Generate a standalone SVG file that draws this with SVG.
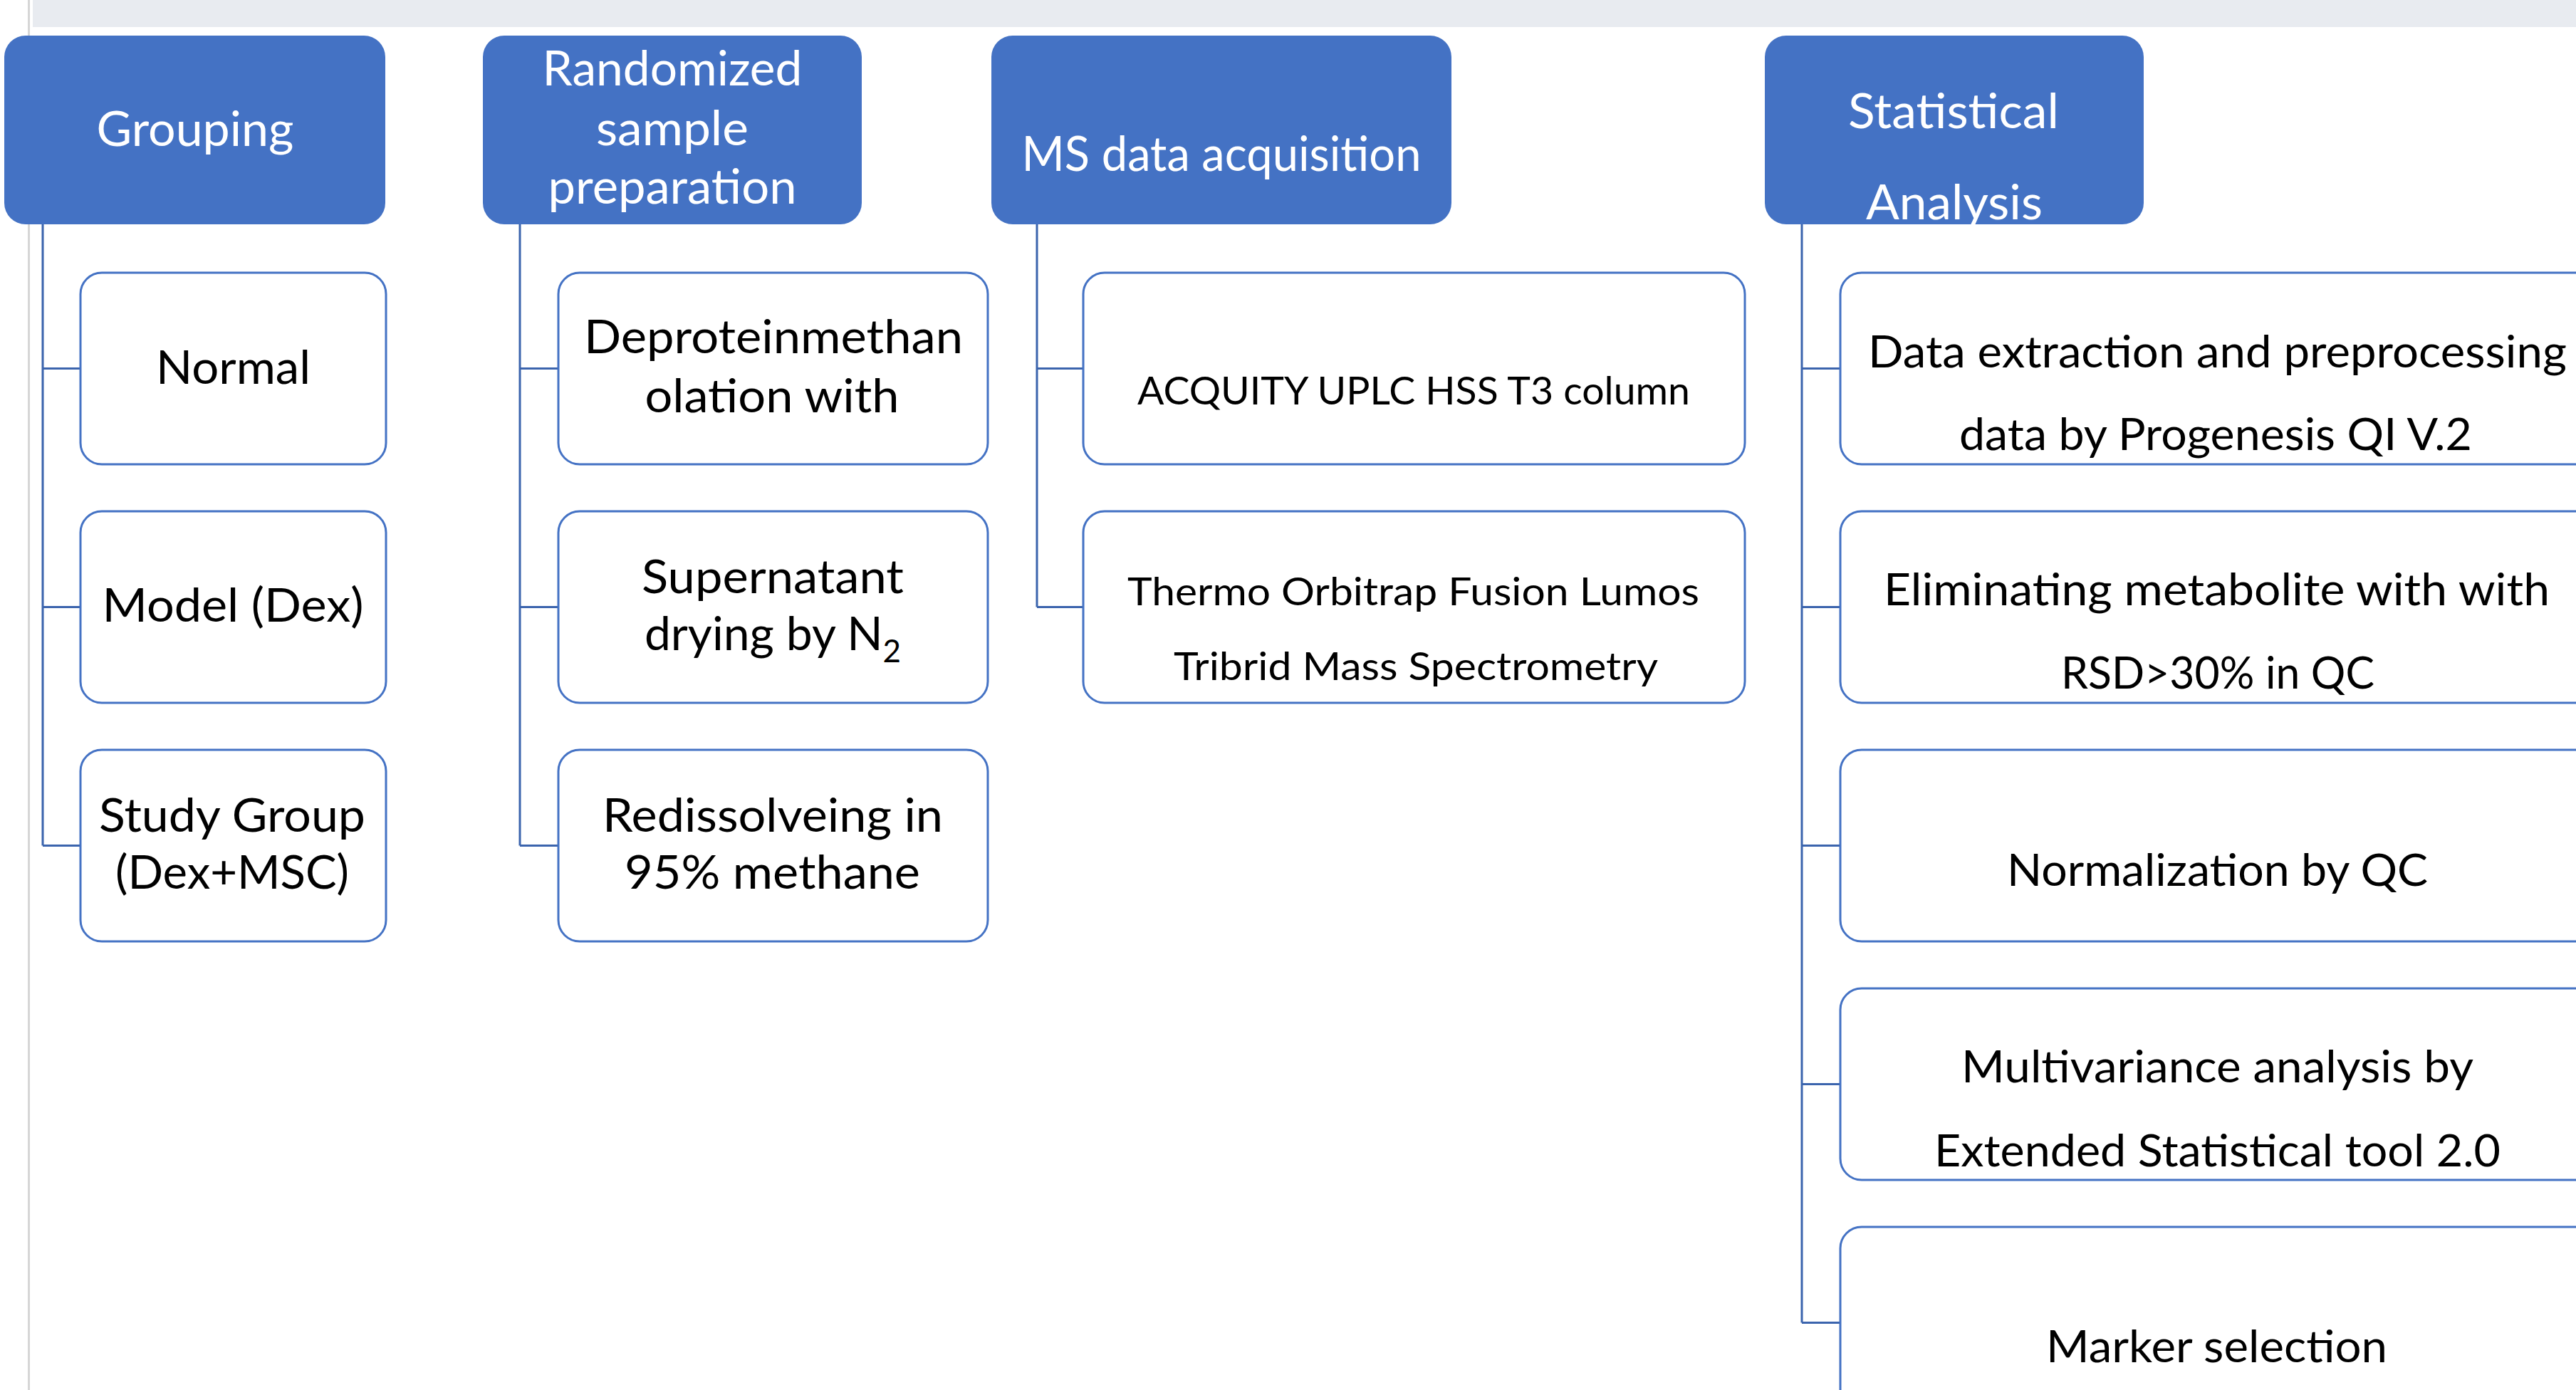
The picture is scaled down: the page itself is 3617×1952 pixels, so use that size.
<svg xmlns="http://www.w3.org/2000/svg" width="3617" height="1952" viewBox="0 0 3617 1952">
<style>
.hdr{fill:#4472C4}
.box{fill:#FFFFFF;stroke:#4472C4;stroke-width:3}
.con{fill:none;stroke:#3B64AD;stroke-width:3}
.ht{font-family:Lato,"Open Sans",sans-serif;fill:#FFFFFF;text-anchor:middle;font-size:67px}
.ct{font-family:Lato,"Open Sans",sans-serif;fill:#000000;text-anchor:middle;font-size:66px}
.ms{font-size:54px}
.st{font-size:62px}
</style>
<rect x="0" y="0" width="3617" height="1952" fill="#FFFFFF"/>
<rect x="46" y="0" width="3571" height="38" fill="#E8EBF0"/>
<rect x="39" y="0" width="3" height="1952" fill="#D6D6D6"/>

<g id="connectors">
<path class="con" d="M60 315V1187.5M60 517.5H113M60 852.5H113M60 1187.5H113"/>
<path class="con" d="M730 315V1187.5M730 517.5H784M730 852.5H784M730 1187.5H784"/>
<path class="con" d="M1456 315V852.5M1456 517.5H1521M1456 852.5H1521"/>
<path class="con" d="M2530 315V1857.5M2530 517.5H2584M2530 852.5H2584M2530 1187.5H2584M2530 1522.5H2584M2530 1857.5H2584"/>
</g>

<g id="grouping">
<rect class="hdr" x="6" y="50" width="535" height="265" rx="30"/>
<text class="ht" x="274" y="205" textLength="277" lengthAdjust="spacingAndGlyphs">Grouping</text>
</g>
<g id="randomized">
<rect class="hdr" x="678" y="50" width="532" height="265" rx="30"/>
<text class="ht" x="944" y="120" textLength="365" lengthAdjust="spacingAndGlyphs">Randomized</text>
<text class="ht" x="944" y="204" textLength="214" lengthAdjust="spacingAndGlyphs">sample</text>
<text class="ht" x="944" y="286" textLength="349" lengthAdjust="spacingAndGlyphs">preparation</text>
</g>
<g id="ms-data">
<rect class="hdr" x="1392" y="50" width="646" height="265" rx="30"/>
<text class="ht" x="1715" y="240" textLength="561" lengthAdjust="spacingAndGlyphs">MS data acquisition</text>
</g>
<g id="statistical">
<rect class="hdr" x="2478" y="50" width="532" height="265" rx="30"/>
<text class="ht" x="2743" y="180" textLength="296" lengthAdjust="spacingAndGlyphs">Statistical</text>
<text class="ht" x="2744" y="308" textLength="248" lengthAdjust="spacingAndGlyphs">Analysis</text>
</g>

<g id="normal">
<rect class="box" x="113" y="383" width="429" height="269" rx="30"/>
<text class="ct" x="327.5" y="539" textLength="217" lengthAdjust="spacingAndGlyphs">Normal</text>
</g>
<g id="model">
<rect class="box" x="113" y="718" width="429" height="269" rx="30"/>
<text class="ct" x="327" y="873" textLength="367" lengthAdjust="spacingAndGlyphs">Model (Dex)</text>
</g>
<g id="study">
<rect class="box" x="113" y="1053" width="429" height="269" rx="30"/>
<text class="ct" x="326" y="1168" textLength="374" lengthAdjust="spacingAndGlyphs">Study Group</text>
<text class="ct" x="326" y="1248" textLength="328" lengthAdjust="spacingAndGlyphs">(Dex+MSC)</text>
</g>

<g id="deprotein">
<rect class="box" x="784" y="383" width="603" height="269" rx="30"/>
<text class="ct" x="1086" y="496" textLength="532" lengthAdjust="spacingAndGlyphs">Deproteinmethan</text>
<text class="ct" x="1084" y="579" textLength="357" lengthAdjust="spacingAndGlyphs">olation with</text>
</g>
<g id="supernatant">
<rect class="box" x="784" y="718" width="603" height="269" rx="30"/>
<text class="ct" x="1085" y="833" textLength="368" lengthAdjust="spacingAndGlyphs">Supernatant</text>
<text class="ct" x="1085" y="913">drying by N<tspan font-size="44" dy="17">2</tspan></text>
</g>
<g id="redissolve">
<rect class="box" x="784" y="1053" width="603" height="269" rx="30"/>
<text class="ct" x="1085" y="1168" textLength="478" lengthAdjust="spacingAndGlyphs">Redissolveing in</text>
<text class="ct" x="1084.5" y="1248" textLength="415" lengthAdjust="spacingAndGlyphs">95% methane</text>
</g>

<g id="acquity">
<rect class="box" x="1521" y="383" width="929" height="269" rx="30"/>
<text class="ct ms" x="1985" y="568" textLength="776" lengthAdjust="spacingAndGlyphs">ACQUITY UPLC HSS T3 column</text>
</g>
<g id="thermo">
<rect class="box" x="1521" y="718" width="929" height="269" rx="30"/>
<text class="ct ms" x="1984.5" y="850" textLength="803" lengthAdjust="spacingAndGlyphs">Thermo Orbitrap Fusion Lumos</text>
<text class="ct ms" x="1988" y="955" textLength="680" lengthAdjust="spacingAndGlyphs">Tribrid Mass Spectrometry</text>
</g>

<g id="data-extraction">
<rect class="box" x="2584" y="383" width="1100" height="269" rx="30"/>
<text class="ct st" x="3113.5" y="516" textLength="981" lengthAdjust="spacingAndGlyphs">Data extraction and preprocessing</text>
<text class="ct st" x="3111" y="632" textLength="720" lengthAdjust="spacingAndGlyphs">data by Progenesis QI V.2</text>
</g>
<g id="eliminating">
<rect class="box" x="2584" y="718" width="1100" height="269" rx="30"/>
<text class="ct st" x="3112.5" y="850" textLength="935" lengthAdjust="spacingAndGlyphs">Eliminating metabolite with with</text>
<text class="ct st" x="3114" y="967" textLength="440" lengthAdjust="spacingAndGlyphs">RSD&gt;30% in QC</text>
</g>
<g id="normalization">
<rect class="box" x="2584" y="1053" width="1100" height="269" rx="30"/>
<text class="ct st" x="3113.5" y="1244" textLength="591" lengthAdjust="spacingAndGlyphs">Normalization by QC</text>
</g>
<g id="multivariance">
<rect class="box" x="2584" y="1388" width="1100" height="269" rx="30"/>
<text class="ct st" x="3113.5" y="1520" textLength="719" lengthAdjust="spacingAndGlyphs">Multivariance analysis by</text>
<text class="ct st" x="3113.5" y="1638" textLength="795" lengthAdjust="spacingAndGlyphs">Extended Statistical tool 2.0</text>
</g>
<g id="marker">
<rect class="box" x="2584" y="1723" width="1100" height="269" rx="30"/>
<text class="ct st" x="3112.5" y="1913" textLength="479" lengthAdjust="spacingAndGlyphs">Marker selection</text>
</g>
</svg>
